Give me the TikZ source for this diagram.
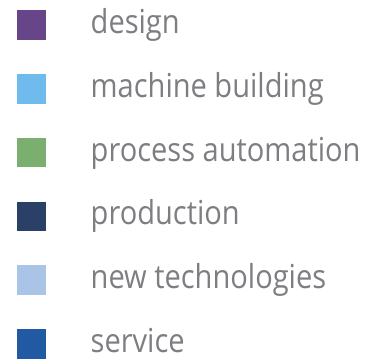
\documentclass[tikz,border=0pt]{standalone}
\usepackage{fontspec}
\setmainfont[FakeStretch=0.88]{Open Sans}
\definecolor{cdesign}{HTML}{664689}
\definecolor{cmachine}{HTML}{6FBBEE}
\definecolor{cprocess}{HTML}{7AAF70}
\definecolor{cproduction}{HTML}{2A4066}
\definecolor{cnewtech}{HTML}{A9C4E6}
\definecolor{cservice}{HTML}{2259A3}
\definecolor{ctext}{HTML}{7D7E81}
\begin{document}
\begin{tikzpicture}[x=1pt,y=1pt,
  swatch/.style={minimum width=29.5pt,minimum height=29.5pt,inner sep=0pt,draw=none},
  lbl/.style={anchor=base west,inner sep=0pt,text=ctext,font=\fontsize{33}{40}\selectfont}]
\useasboundingbox (0,0) rectangle (365,363);
\foreach \n/\c/\t [count=\i from 0] in {a/cdesign/design,b/cmachine/machine building,c/cprocess/process automation,d/cproduction/production,e/cnewtech/new technologies,f/cservice/service}{
  \pgfmathsetmacro{\yc}{363-25-63.8*\i}
  \node[swatch,fill=\c] (sq\n) at (31.5,\yc) {};
  \node[lbl] (t\n) at (90.5,\yc-8.5) {\t};
}
\end{tikzpicture}
\end{document}
